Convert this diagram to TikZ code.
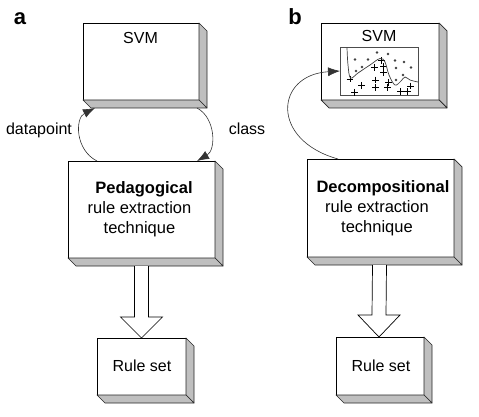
\documentclass[tikz,border=0pt]{standalone}
\usepackage{fontspec}
\setmainfont{Liberation Sans}
\usetikzlibrary{calc,arrows.meta}
\tikzset{
  front/.style={draw=black, line width=0.8pt, fill=white, inner sep=0pt, outer sep=0pt},
  depthface/.style={draw=black!85, line width=0.7pt, fill=black!25, line join=round},
  txt/.style={inner sep=0pt, outer sep=0pt, font=\fontsize{16.5}{20}\selectfont},
  lbl/.style={inner sep=0pt, outer sep=0pt, anchor=base, font=\fontsize{16}{20}\selectfont},
  panel/.style={inner sep=0pt, outer sep=0pt, anchor=base, font=\fontsize{22}{24}\selectfont\bfseries},
  flow/.style={draw=black!80, line width=0.6pt, -{Latex[length=12pt,width=9pt]}},
  hollow/.style={draw=black, line width=0.7pt, fill=white, line join=miter},
  plotbox/.style={draw=black!70, line width=0.7pt, fill=white, inner sep=0pt, outer sep=0pt},
  dot/.style={fill=black!75},
  plus/.style={draw=black, line width=0.7pt},
}
\newcommand\boxdepth[1]{%
  \filldraw[depthface] (#1.north east) -- ++(8,8) -- ($(#1.south east)+(8,8)$) -- (#1.south east) -- cycle;
  \filldraw[depthface] (#1.south west) -- ++(8,8) -- ($(#1.south east)+(8,8)$) -- (#1.south east) -- cycle;}
\begin{document}
\begin{tikzpicture}[x=1pt,y=-1pt]
\useasboundingbox (0,0) rectangle (479,417);
% panel letters
\node[panel] (pa) at (20,25) {a};
\node[panel] (pb) at (295,25) {b};
% boxes (panel a)
\node[front, minimum width=116pt, minimum height=77pt] (svma) at (141,61.5) {};
\boxdepth{svma}
\node[front, minimum width=147pt, minimum height=97pt] (ped) at (141.5,209.5) {};
\boxdepth{ped}
\node[front, minimum width=89pt, minimum height=57pt] (rulea) at (141.5,366.5) {};
\boxdepth{rulea}
% boxes (panel b)
\node[front, minimum width=118pt, minimum height=77pt] (svmb) at (380,61.5) {};
\boxdepth{svmb}
\node[front, minimum width=147pt, minimum height=98pt] (dec) at (380.5,208) {};
\boxdepth{dec}
\node[front, minimum width=88pt, minimum height=58pt] (ruleb) at (380,366) {};
\boxdepth{ruleb}
% texts
\node[lbl] (svmat) at (140.5,44) {SVM};
\node[lbl] (svmbt) at (379,42) {SVM};
\node[txt, align=center] (pedt) at (139.5,209.5) {\hspace*{9pt}\textbf{Pedagogical}\\rule extraction\\technique};
\node[txt, align=center] (dect) at (377,208) {\hspace*{12pt}\textbf{Decompositional}\\rule extraction\\technique};
\node[lbl] (ruleat) at (142,371.5) {Rule set};
\node[lbl] (rulebt) at (381,371) {Rule set};
\node[lbl] (dp) at (39,135) {datapoint};
\node[lbl] (cl) at (247,135) {class};
% curved connectors panel a
\coordinate (dpstart) at ($(ped.north west)+(29,0)$);
\coordinate (dpend) at ($(svma.south west)+(12,8)$);
\draw[flow] (dpstart) .. controls ($(dpstart)+(-22,-11)$) and ($(dpend)+(-20,10)$) .. (dpend);
\coordinate (clstart) at ($(svma.south east)+(-2,8)$);
\coordinate (clend) at ($(ped.north east)+(-18,0)$);
\draw[flow] (clstart) .. controls ($(clstart)+(19,10)$) and ($(clend)+(19,-11)$) .. (clend);
% hollow arrows
\draw[hollow] ($(ped.south)+(-7,8)$) -- ($(rulea.north)+(-7,-21)$) -- ($(rulea.north)+(-21,-21)$) -- (rulea.north) -- ($(rulea.north)+(21,-21)$) -- ($(rulea.north)+(7,-21)$) -- ($(ped.south)+(7,8)$);
\draw[hollow] ($(dec.south)+(-8,8)$) -- ($(ruleb.north)+(-8,-22)$) -- ($(ruleb.north)+(-22,-22)$) -- ($(ruleb.north)+(-1,0)$) -- ($(ruleb.north)+(20,-22)$) -- ($(ruleb.north)+(6,-22)$) -- ($(dec.south)+(6,8)$);
% inner plot in SVM (b)
\node[plotbox, minimum width=78pt, minimum height=48pt] (plot) at (379,71) {};
\foreach \x/\y in {377/52.5,388/54,355/59.5,368/59.5,395/60.5,404/62,362/67,356/71,396/68,411/67.5,403/75,396/80}
  \fill[dot] (\x,\y) circle (1.3pt);
\foreach \x/\y in {381.7/60.7,374.3/67.7,383.3/66.7,383.3/72.3,350/79,375.3/80,361.7/85.7,375.3/87.3,387.3/87.7,388.3/82.3,354.3/92.3,400.7/91.7,407.3/91.7,410.7/86}
  \draw[plus] (\x-3.3,\y) -- (\x+3.3,\y) (\x,\y-3.3) -- (\x,\y+3.3);
\draw[black!75, line width=0.7pt] plot[smooth, tension=0.6] coordinates {(347,47.5) (348,65) (350.5,78) (358,73) (370,65) (380,58.5) (385,62) (389,75) (395,85) (401,81) (405,77) (410,80) (418,82)};
% curved connector panel b
\coordinate (decstart) at ($(dec.north west)+(31,0)$);
\draw[flow] (decstart) .. controls (270,140) and (275,75) .. (plot.west);
\end{tikzpicture}
\end{document}
